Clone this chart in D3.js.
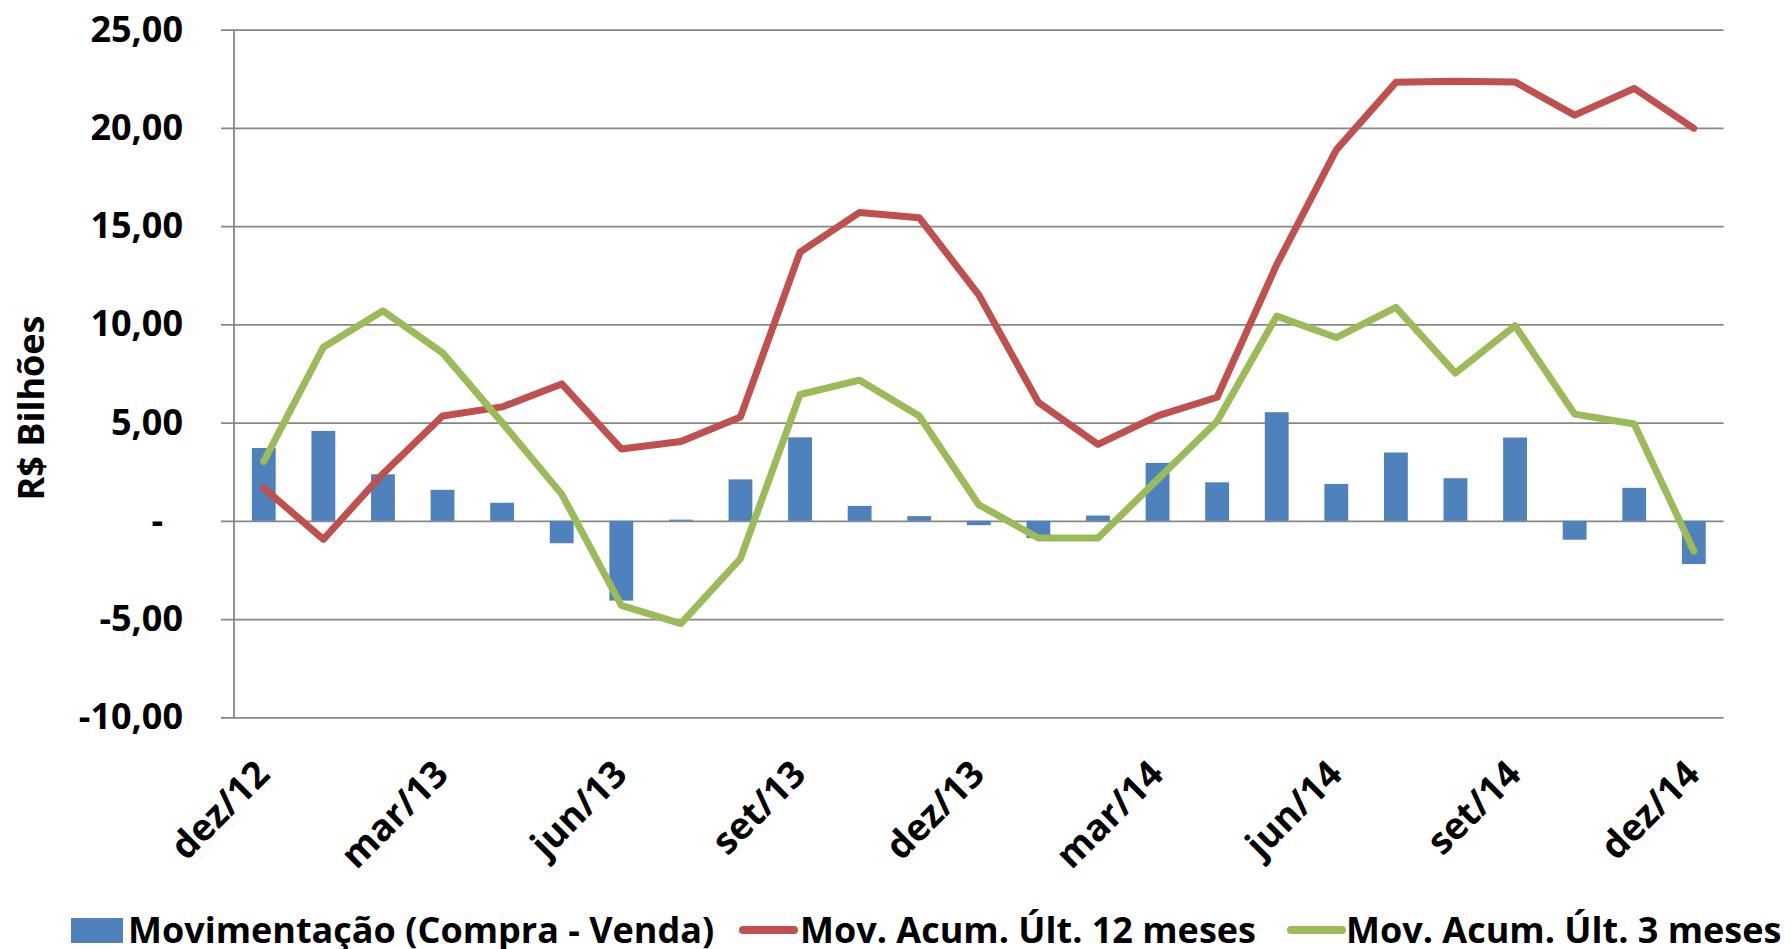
<!DOCTYPE html>
<html>
<head>
<meta charset="utf-8">
<script src="https://cdn.jsdelivr.net/npm/d3@7"></script>
<style>
    body { margin: 0; background: #fff; }
    svg text { font-family: "Open Sans", sans-serif; font-weight: 700; fill: #000; }
</style>
</head>
<body>
<svg id="chart" width="1791" height="949"></svg>
<script>
// data (R$ bilhões)
var months = ["dez/12","jan/13","fev/13","mar/13","abr/13","mai/13","jun/13","jul/13","ago/13","set/13","out/13","nov/13",
              "dez/13","jan/14","fev/14","mar/14","abr/14","mai/14","jun/14","jul/14","ago/14","set/14","out/14","nov/14","dez/14"];
var movimentacao = [3.71, 4.58, 2.37, 1.58, 0.92, -1.14, -4.06, 0.06, 2.11, 4.25, 0.76, 0.24,
                    -0.22, -0.88, 0.27, 2.95, 1.96, 5.53, 1.88, 3.48, 2.17, 4.24, -0.96, 1.68, -2.2];
var acum12 = [1.67, -0.94, 2.4, 5.34, 5.8, 6.97, 3.66, 4.04, 5.29, 13.68, 15.7, 15.43,
              11.5, 6.03, 3.89, 5.34, 6.29, 13.04, 18.88, 22.32, 22.37, 22.34, 20.65, 22.01, 19.98];
var acum3 = [3.03, 8.84, 10.69, 8.55, 5.0, 1.36, -4.3, -5.23, -1.92, 6.43, 7.16, 5.34,
             0.82, -0.87, -0.87, 2.1, 5.07, 10.42, 9.33, 10.87, 7.52, 9.93, 5.43, 4.93, -1.54];
var yTicks = [-10, -5, 0, 5, 10, 15, 20, 25];
var legendLabels = ["Movimentação (Compra - Venda)", "Mov. Acum. Últ. 12 meses", "Mov. Acum. Últ. 3 meses"];

var colors = { bar: "#4F81BD", red: "#C0504D", green: "#9BBB59", grid: "#878787" };

var svg = d3.select("#chart");
var plotLeft = 234, plotRight = 1723.6, plotTop = 29.7, plotBottom = 717.3;

var x = d3.scaleBand().domain(months).range([plotLeft, plotRight]).padding(0);
var y = d3.scaleLinear().domain([-10, 25]).range([plotBottom, plotTop]);

var br = d3.formatLocale({ decimal: ",", thousands: ".", grouping: [3], currency: ["R$", ""], minus: "-" });
var fmt = br.format(",.2f");

// y axis + gridlines (gridlines start 13px left of the axis line = outer tick)
var yAxis = svg.append("g")
    .attr("transform", "translate(" + (plotLeft - 13) + ",0)")
    .call(d3.axisLeft(y).tickValues(yTicks).tickSize(-(plotRight - plotLeft + 13)).tickPadding(38)
        .tickFormat(function(d){ return d === 0 ? "-" : fmt(d); }));
yAxis.select(".domain").remove();
yAxis.selectAll(".tick line").attr("stroke", colors.grid).attr("stroke-width", 1.8);
yAxis.selectAll(".tick text")
    .attr("font-size", 36)
    .attr("fill", "#000")
    .attr("dx", function(d){ return d === 0 ? -20 : 0; });

svg.append("line")
    .attr("x1", plotLeft).attr("x2", plotLeft)
    .attr("y1", plotTop).attr("y2", plotBottom)
    .attr("stroke", colors.grid).attr("stroke-width", 1.8);

// x axis labels, every third month
var xAxis = svg.append("g")
    .attr("transform", "translate(0," + plotBottom + ")")
    .call(d3.axisBottom(x).tickSize(0)
        .tickValues(months.filter(function(d, i){ return i % 3 === 0; })));
xAxis.select(".domain").remove();
xAxis.selectAll(".tick text")
    .attr("font-size", 37)
    .attr("fill", "#000")
    .attr("text-anchor", "end")
    .attr("dy", null)
    .attr("y", null)
    .attr("transform", "translate(8,59) rotate(-45)");

// bars
var bw = x.bandwidth() * 0.4;
svg.append("g").selectAll("rect")
    .data(movimentacao)
    .enter().append("rect")
    .attr("x", function(d, i){ return x(months[i]) + (x.bandwidth() - bw) / 2; })
    .attr("y", function(d){ return y(Math.max(0, d)); })
    .attr("width", bw)
    .attr("height", function(d){ return Math.abs(y(d) - y(0)); })
    .attr("fill", colors.bar);

// lines
var line = d3.line()
    .x(function(d, i){ return x(months[i]) + x.bandwidth() / 2; })
    .y(function(d){ return y(d); });

[[acum12, colors.red], [acum3, colors.green]].forEach(function(s){
    svg.append("path")
        .attr("d", line(s[0]))
        .attr("fill", "none")
        .attr("stroke", s[1])
        .attr("stroke-width", 7)
        .attr("stroke-linejoin", "round")
        .attr("stroke-linecap", "round");
});

// y title
svg.append("text")
    .attr("transform", "translate(44,408) rotate(-90)")
    .attr("text-anchor", "middle")
    .attr("font-size", 36)
    .text("R$ Bilhões");

// legend
var lg = svg.append("g");
lg.append("rect").attr("x", 71).attr("y", 918).attr("width", 52).attr("height", 25).attr("fill", colors.bar);
lg.append("text").attr("x", 128).attr("y", 943).attr("font-size", 36).text(legendLabels[0]);
lg.append("line").attr("x1", 743).attr("x2", 794).attr("y1", 930).attr("y2", 930)
    .attr("stroke", colors.red).attr("stroke-width", 8).attr("stroke-linecap", "round");
lg.append("text").attr("x", 800).attr("y", 943).attr("font-size", 36).text(legendLabels[1]);
lg.append("line").attr("x1", 1291).attr("x2", 1342).attr("y1", 930).attr("y2", 930)
    .attr("stroke", colors.green).attr("stroke-width", 8).attr("stroke-linecap", "round");
lg.append("text").attr("x", 1346).attr("y", 943).attr("font-size", 36).text(legendLabels[2]);
</script>
</body>
</html>
